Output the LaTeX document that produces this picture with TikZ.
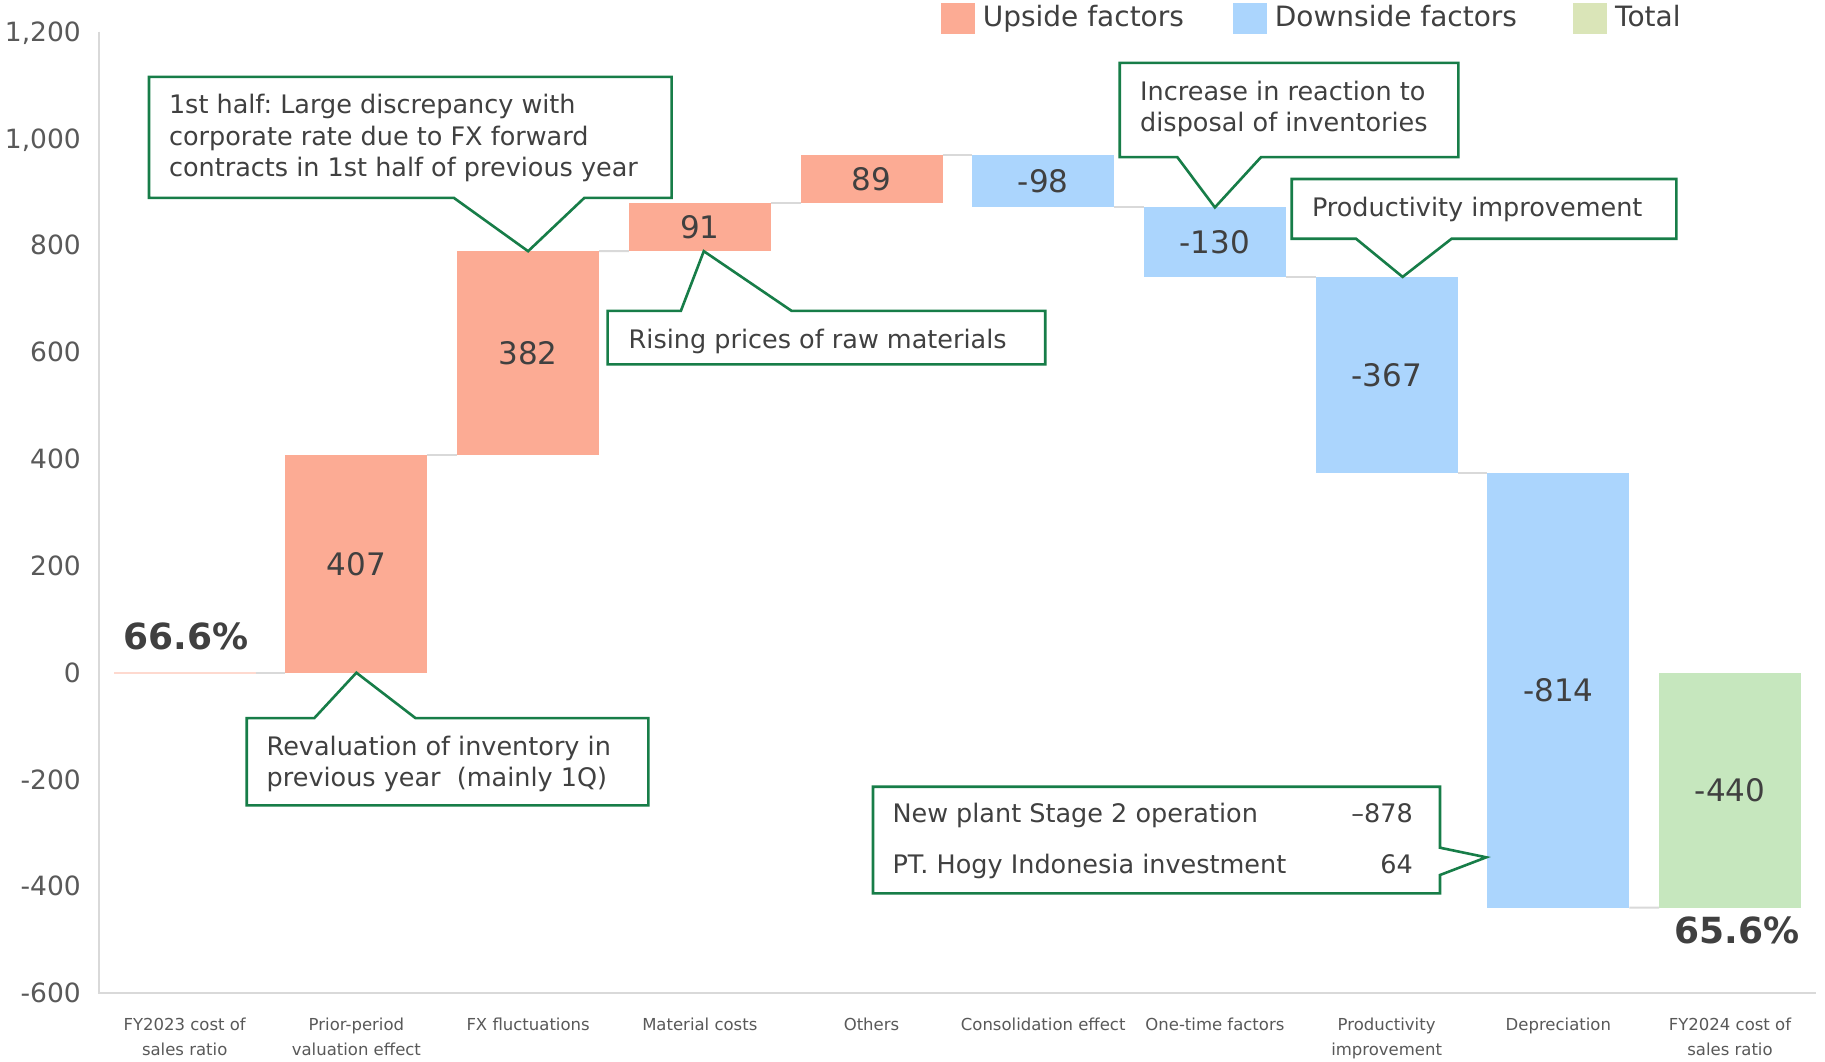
\documentclass[tikz,border=0pt]{standalone}
\usepackage{fontspec}
\setmainfont{DejaVu Sans}
\usetikzlibrary{calc}
\definecolor{up}{HTML}{FCAB94}
\definecolor{down}{HTML}{ABD5FD}
\definecolor{tot}{HTML}{C6E7BE}
\definecolor{totleg}{HTML}{DAE5B8}
\definecolor{callg}{HTML}{177D48}
\definecolor{txt}{HTML}{404040}
\definecolor{txtb}{HTML}{595959}
\definecolor{ax}{HTML}{D9D9D9}
\frenchspacing
\begin{document}
\begin{tikzpicture}[x=1pt,y=-1pt,
  bar/.style={inner sep=0pt, outer sep=0pt, minimum width=142pt, anchor=north west,
    text=txt, font=\fontsize{31}{36}\selectfont},
  conn/.style={draw=ax, line width=2pt},
  axisline/.style={draw=ax, line width=2pt},
  ticklab/.style={anchor=base east, inner sep=0pt, text=txtb, font=\fontsize{26.5}{30}\selectfont},
  catlab/.style={anchor=north, inner sep=0pt, align=center, text=txtb, font=\fontsize{16.5}{25.7}\selectfont},
  callout/.style={draw=callg, line width=2.6pt, fill=white, line join=miter},
  ctext/.style={anchor=base west, inner sep=0pt, text=txt, font=\fontsize{25.5}{32}\selectfont},
  legsq/.style={inner sep=0pt, minimum width=34pt, minimum height=31.4pt, anchor=north west},
  legtext/.style={anchor=base west, inner sep=0pt, text=txt, font=\fontsize{28}{32}\selectfont},
  pct/.style={anchor=base, inner sep=0pt, text=txt, font=\fontsize{36}{40}\selectfont\bfseries}
]
\useasboundingbox (0,0) rectangle (1825,1061);
\fill[white] (0,0) rectangle (1825,1061);

% axes
\draw[axisline] (98.9,31.7) -- (98.9,993.2) -- (1815.7,993.2);
\foreach \v/\t in {1200/{1,200},1000/{1,000},800/800,600/600,400/400,200/200,0/0,-200/-200,-400/-400,-600/-600}
  \node[ticklab] (tick\v) at (81,{672.7-\v*0.5342+9.6}) {\t};

% bars
\node[inner sep=0pt, outer sep=0pt, minimum width=142pt, minimum height=2pt, fill=up!45, anchor=west] (b1) at (113.7,672.7) {};
\node[bar, fill=up, minimum height=217.4pt] (b2) at (285.4,455.3) {407};
\node[bar, fill=up, minimum height=204.1pt] (b3) at (457.1,251.2) {382};
\node[bar, fill=up, minimum height=48.6pt] (b4) at (628.8,202.6) {91};
\node[bar, fill=up, minimum height=47.5pt] (b5) at (800.5,155.1) {89};
\node[bar, fill=down, minimum height=52.3pt] (b6) at (972.2,155.1) {-98};
\node[bar, fill=down, minimum height=69.5pt] (b7) at (1143.9,207.4) {-130};
\node[bar, fill=down, minimum height=196pt] (b8) at (1315.6,276.9) {-367};
\node[bar, fill=down, minimum height=434.8pt] (b9) at (1487.3,472.9) {-814};
\node[bar, fill=tot, minimum height=235pt] (b10) at (1659,672.7) {-440};

% connectors
\draw[conn] (b1.east) -- (b2.south west);
\draw[conn] (b2.north east) -- (b3.south west);
\draw[conn] (b3.north east) -- (b4.south west);
\draw[conn] (b4.north east) -- (b5.south west);
\draw[conn] (b5.north east) -- (b6.north west);
\draw[conn] (b6.south east) -- (b7.north west);
\draw[conn] (b7.south east) -- (b8.north west);
\draw[conn] (b8.south east) -- (b9.north west);
\draw[conn] (b9.south east) -- (b10.south west);

% percentages
\node[pct] (p1) at (186,649.3) {66.6\%};
\node[pct] (p2) at (1737,943.3) {65.6\%};

% category labels
\node[catlab] (k1) at (184.7,1017.3) {FY2023 cost of\\sales ratio};
\node[catlab] (k2) at (356.4,1017.3) {Prior-period\\valuation effect};
\node[catlab] (k3) at (528.1,1017.3) {FX fluctuations};
\node[catlab] (k4) at (699.8,1017.3) {Material costs};
\node[catlab] (k5) at (871.5,1017.3) {Others};
\node[catlab] (k6) at (1043.2,1017.3) {Consolidation effect};
\node[catlab] (k7) at (1214.9,1017.3) {One-time factors};
\node[catlab] (k8) at (1386.6,1017.3) {Productivity\\improvement};
\node[catlab] (k9) at (1558.3,1017.3) {Depreciation};
\node[catlab] (k10) at (1730,1017.3) {FY2024 cost of\\sales ratio};

% legend
\node[legsq, fill=up] (l1) at (941,2.3) {};
\node[legtext] (lt1) at (982.6,26.7) {Upside factors};
\node[legsq, fill=down] (l2) at (1233,2.3) {};
\node[legtext] (lt2) at (1274.6,26.7) {Downside factors};
\node[legsq, fill=totleg] (l3) at (1572.6,2.3) {};
\node[legtext] (lt3) at (1615,26.7) {Total};

% callout 1
\draw[callout] (149,76.8) -- (671.6,76.8) -- (671.6,197.9) -- (584.3,197.9) -- (b3.north) -- (453.9,197.9) -- (149,197.9) -- cycle;
\node[ctext] (c1a) at (168.8,113.3) {1st half: Large discrepancy with};
\node[ctext] (c1b) at (168.8,145.0) {corporate rate due to FX forward};
\node[ctext] (c1c) at (168.8,176.7) {contracts in 1st half of previous year};

% callout 2
\coordinate (t2) at ($(b4.south)+(4,0)$);
\draw[callout] (607.6,310.8) -- (680.9,310.8) -- (t2) -- (791.5,310.8) -- (1045.2,310.8) -- (1045.2,364.3) -- (607.6,364.3) -- cycle;
\node[ctext] (c2a) at (628.5,348.4) {Rising prices of raw materials};

% callout 3
\draw[callout] (246.7,718.1) -- (314.3,718.1) -- (b2.south) -- (415.5,718.1) -- (648.3,718.1) -- (648.3,805.4) -- (246.7,805.4) -- cycle;
\node[ctext] (c3a) at (266.5,755) {Revaluation of inventory in};
\node[ctext] (c3b) at (266.5,786) {previous year\ \ (mainly 1Q)};

% callout 4
\draw[callout] (1119.7,62.9) -- (1458.4,62.9) -- (1458.4,157.1) -- (1261,157.1) -- (b7.north) -- (1177.3,157.1) -- (1119.7,157.1) -- cycle;
\node[ctext] (c4a) at (1140,100.2) {Increase in reaction to};
\node[ctext] (c4b) at (1140,131.8) {disposal of inventories};

% callout 5
\coordinate (t5) at ($(b8.north)+(16,0)$);
\draw[callout] (1291.7,179) -- (1676.4,179) -- (1676.4,238.7) -- (1451.6,238.7) -- (t5) -- (1356,238.7) -- (1291.7,238.7) -- cycle;
\node[ctext] (c5a) at (1311.8,216.7) {Productivity improvement};

% callout 6
\coordinate (t6) at ($(b9.north west)+(-1,384.4)$);
\draw[callout] (873,786.7) -- (1440,786.7) -- (1440,847.7) -- (t6) -- (1440,875) -- (1440,893.3) -- (873,893.3) -- cycle;
\node[ctext] (c6a) at (892.3,822.7) {New plant Stage 2 operation};
\node[ctext, anchor=base east] (c6b) at (1413,822.7) {–878};
\node[ctext] (c6c) at (892.3,873.3) {PT. Hogy Indonesia investment};
\node[ctext, anchor=base east] (c6d) at (1413,873.3) {64};
\end{tikzpicture}
\end{document}
